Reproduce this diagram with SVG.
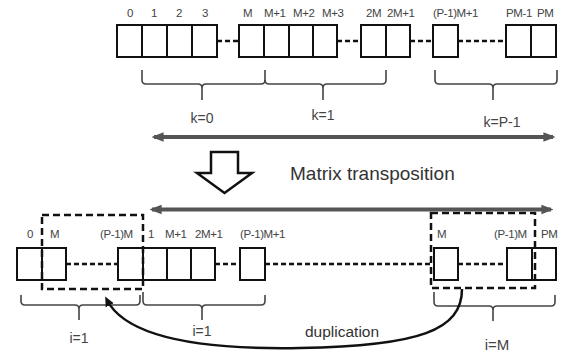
<svg xmlns="http://www.w3.org/2000/svg" width="569" height="352" viewBox="0 0 569 352">
<style>
.box{fill:#fff;stroke:#111;stroke-width:2}
.dash{stroke:#111;stroke-width:2.5;stroke-dasharray:5 3;fill:none}
.sel{fill:none;stroke:#111;stroke-width:2.5;stroke-dasharray:7 4}
.brace{fill:none;stroke:#444;stroke-width:1.6}
.lbl{font-family:"Liberation Sans",Arial,sans-serif;font-size:11.5px;fill:#444;letter-spacing:-0.4px}
.grp{font-family:"Liberation Sans",Arial,sans-serif;font-size:14px;fill:#444;text-anchor:middle}
.big{font-family:"Liberation Sans",Arial,sans-serif;font-size:19px;fill:#333}
.axis{stroke:#555;stroke-width:4;fill:none}
</style>
<defs>
<marker id="ah" viewBox="0 0 10 10" refX="8" refY="5" markerWidth="3" markerHeight="3" orient="auto-start-reverse" markerUnits="strokeWidth">
<path d="M0,1 L10,5 L0,9 z" fill="#555"/>
</marker>
<marker id="bh" viewBox="0 0 10 10" refX="6" refY="5" markerWidth="4" markerHeight="4" orient="auto" markerUnits="strokeWidth">
<path d="M0,0.5 L10,5 L0,9.5 z" fill="#111"/>
</marker>
</defs>

<g id="top-row">
<rect class="box" x="117" y="25" width="25" height="32"/>
<rect class="box" x="142" y="25" width="25" height="32"/>
<rect class="box" x="167" y="25" width="25" height="32"/>
<rect class="box" x="192" y="25" width="25" height="32"/>
<rect class="box" x="239" y="25" width="25" height="32"/>
<rect class="box" x="264" y="25" width="25" height="32"/>
<rect class="box" x="289" y="25" width="24" height="32"/>
<rect class="box" x="313" y="25" width="24" height="32"/>
<rect class="box" x="361" y="25" width="25" height="32"/>
<rect class="box" x="386" y="25" width="24" height="32"/>
<rect class="box" x="433" y="25" width="25" height="32"/>
<rect class="box" x="506" y="25" width="25" height="32"/>
<rect class="box" x="531" y="25" width="25" height="32"/>
<text class="lbl" x="127" y="17">0</text>
<text class="lbl" x="151" y="17">1</text>
<text class="lbl" x="176" y="17">2</text>
<text class="lbl" x="202" y="17">3</text>
<text class="lbl" x="243" y="17">M</text>
<text class="lbl" x="264" y="17">M+1</text>
<text class="lbl" x="293" y="17">M+2</text>
<text class="lbl" x="322" y="17">M+3</text>
<text class="lbl" x="366" y="17">2M</text>
<text class="lbl" x="387" y="17">2M+1</text>
<text class="lbl" x="433" y="17">(P-1)M+1</text>
<text class="lbl" x="506" y="17">PM-1</text>
<text class="lbl" x="537" y="17">PM</text>
</g>

<g id="top-braces">
<path class="brace" d="M142,70 V80 Q142,84 146,84 H198 Q202,84 202,88 V100 M202,88 Q202,84 206,84 H261 Q265,84 265,80 V70"/>
<path class="brace" d="M265,80 Q265,84 269,84 H319 Q323,84 323,88 V100 M323,88 Q323,84 327,84 H382 Q386,84 386,80 V70"/>
<path class="brace" d="M435,70 V80 Q435,84 439,84 H489 Q493,84 493,88 V100 M493,88 Q493,84 497,84 H553 Q557,84 557,80 V70"/>
<text class="grp" x="202" y="123">k=0</text>
<text class="grp" x="323" y="120">k=1</text>
<text class="grp" x="502" y="127">k=P-1</text>
</g>

<g id="transpose">
<polygon points="211,152 238,152 238,173 252,173 224.5,193 197,173 211,173" fill="#fff" stroke="#111" stroke-width="2.5" stroke-linejoin="miter"/>
<text class="big" x="290" y="180">Matrix transposition</text>
</g>

<g id="bottom-row">
<rect class="box" x="17" y="248" width="25" height="32"/>
<rect class="box" x="42" y="248" width="24" height="32"/>
<rect class="box" x="118" y="248" width="25" height="32"/>
<rect class="box" x="143" y="248" width="24" height="32"/>
<rect class="box" x="167" y="248" width="24" height="32"/>
<rect class="box" x="191" y="248" width="24" height="32"/>
<rect class="box" x="240" y="248" width="25" height="32"/>
<rect class="box" x="434" y="248" width="24" height="32"/>
<rect class="box" x="507" y="248" width="25" height="32"/>
<rect class="box" x="532" y="248" width="24" height="32"/>
<text class="lbl" x="27" y="238">0</text>
<text class="lbl" x="50" y="238">M</text>
<text class="lbl" x="100" y="238">(P-1)M</text>
<text class="lbl" x="148" y="238">1</text>
<text class="lbl" x="165" y="238">M+1</text>
<text class="lbl" x="195" y="238">2M+1</text>
<text class="lbl" x="240" y="238">(P-1)M+1</text>
<text class="lbl" x="437" y="238">M</text>
<text class="lbl" x="494" y="238">(P-1)M</text>
<text class="lbl" x="541" y="238">PM</text>
</g>

<g id="selection-left">
<rect class="sel" x="42" y="215" width="101" height="74"/>
</g>
<g id="selection-right">
<rect class="sel" x="431" y="213" width="104" height="75"/>
</g>

<g id="bottom-braces">
<path class="brace" d="M21,295 V301 Q21,305 25,305 H75 Q79,305 79,309 V320 M79,309 Q79,305 83,305 H136 Q140,305 140,301 V295"/>
<path class="brace" d="M143,292 V301 Q143,305 147,305 H198 Q202,305 202,309 V320 M202,309 Q202,305 206,305 H261 Q265,305 265,301 V295"/>
<path class="brace" d="M434,292 V302 Q434,306 438,306 H489 Q493,306 493,310 V321 M493,310 Q493,306 497,306 H551 Q555,306 555,302 V295"/>
<text class="grp" x="79" y="343">i=1</text>
<text class="grp" x="202" y="336">i=1</text>
<text class="grp" x="497" y="350" style="font-size:15px">i=M</text>
</g>

<g id="connectors">
<line class="dash" x1="217" y1="41" x2="239" y2="41"/>
<line class="dash" x1="337" y1="41" x2="361" y2="41"/>
<line class="dash" x1="410" y1="41" x2="433" y2="41"/>
<line class="dash" x1="458" y1="41" x2="506" y2="41"/>
<line class="dash" x1="66" y1="264" x2="118" y2="264"/>
<line class="dash" x1="215" y1="264" x2="240" y2="264"/>
<line class="dash" x1="265" y1="264" x2="434" y2="264"/>
<line class="dash" x1="458" y1="264" x2="507" y2="264"/>
<line class="axis" x1="154" y1="137" x2="553" y2="137" marker-start="url(#ah)" marker-end="url(#ah)"/>
<line class="axis" x1="152" y1="209.5" x2="551" y2="209.5" marker-start="url(#ah)" marker-end="url(#ah)"/>
<path d="M462,289 C462,330 420,346 300,348 C190,350 125,335 107,300" fill="none" stroke="#111" stroke-width="2.5" marker-end="url(#bh)"/>
<text class="big" x="305" y="337" style="font-size:15.5px">duplication</text>
</g>
</svg>
